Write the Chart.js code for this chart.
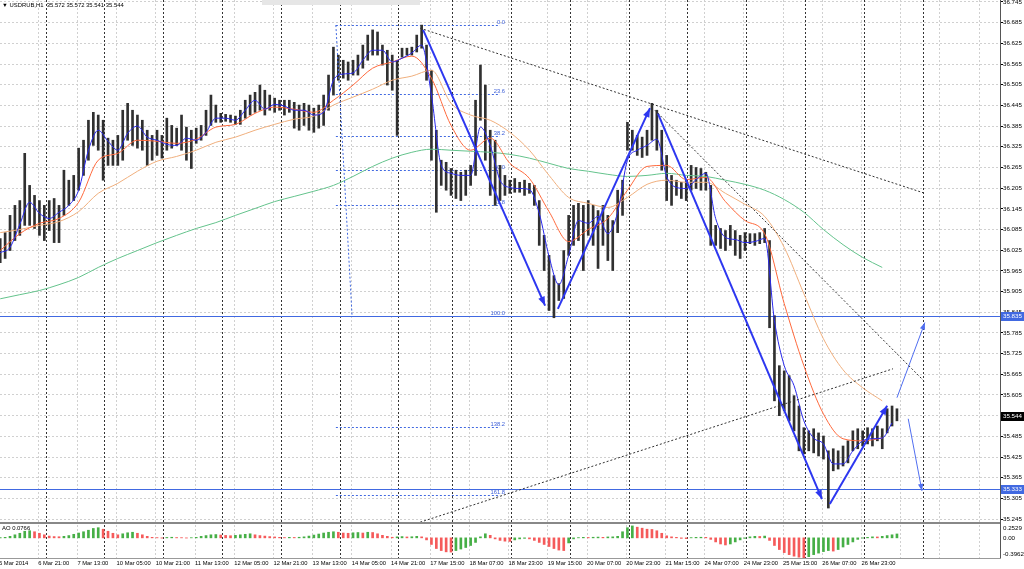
<!DOCTYPE html>
<html>
<head>
<meta charset="utf-8">
<script src="https://cdn.jsdelivr.net/npm/chart.js@4.4.1/dist/chart.umd.min.js"></script>
<style>
  body { margin: 0; background: #fff; width: 1024px; height: 569px; overflow: hidden; position: relative; font-family: 'Liberation Sans', Arial, sans-serif; }
  #boxPrezzo { position: absolute; left: 0; top: 0; }
  #boxAo { position: absolute; left: 0; top: 522px; }
  .testo { position: absolute; font-size: 5.9px; line-height: 9px; color: #000; white-space: nowrap; }
  #pannello { position: absolute; left: 262px; top: 0; width: 158px; height: 5px; background: #e6e6e6; }
</style>
</head>
<body>
<div id="boxPrezzo"><canvas id="graficoPrezzo" width="1024" height="522"></canvas></div>
<div id="boxAo"><canvas id="graficoAo" width="1024" height="47"></canvas></div>
<div id="pannello"></div>
<div class="testo" style="left:2px;top:1px">▼ USDRUB,H1 &nbsp;35.572 35.572 35.541 35.544</div>
<div class="testo" style="left:2px;top:524px">AO 0.0766</div>
<script>
// Etichette dell'asse del tempo (una ogni 16 barre orarie)
const etichetteOrari = ["5 Mar 2014", "6 Mar 21:00", "7 Mar 13:00", "10 Mar 05:00", "10 Mar 21:00", "11 Mar 13:00",
  "12 Mar 05:00", "12 Mar 21:00", "13 Mar 13:00", "14 Mar 05:00", "14 Mar 21:00", "17 Mar 15:00", "18 Mar 07:00",
  "18 Mar 23:00", "19 Mar 15:00", "20 Mar 07:00", "20 Mar 23:00", "21 Mar 15:00", "24 Mar 07:00", "24 Mar 23:00",
  "25 Mar 15:00", "26 Mar 07:00", "26 Mar 23:00"];

// Tacche dell'asse prezzi
const tacchePrezzo = [35.245, 35.305, 35.365, 35.425, 35.485, 35.545, 35.605, 35.665, 35.725, 35.785, 35.845, 35.905,
  35.965, 36.025, 36.085, 36.145, 36.205, 36.265, 36.325, 36.385, 36.445, 36.505, 36.565, 36.625, 36.685, 36.745];

// Barre (una ogni 2 ore): massimi e minimi
const massimi = [
  36.059, 36.076, 36.126, 36.155, 36.169, 36.306, 36.213, 36.184, 36.169, 36.155,
  36.169, 36.175, 36.155, 36.257, 36.228, 36.242, 36.321, 36.344, 36.402, 36.425,
  36.417, 36.402, 36.350, 36.344, 36.358, 36.431, 36.451, 36.431, 36.417, 36.402,
  36.373, 36.358, 36.373, 36.358, 36.408, 36.387, 36.379, 36.417, 36.382, 36.373,
  36.379, 36.387, 36.431, 36.475, 36.446, 36.422, 36.419, 36.417, 36.414, 36.431,
  36.460, 36.475, 36.483, 36.504, 36.489, 36.475, 36.466, 36.460, 36.460, 36.460,
  36.454, 36.446, 36.451, 36.446, 36.437, 36.446, 36.475, 36.533, 36.614, 36.591,
  36.576, 36.571, 36.576, 36.591, 36.620, 36.649, 36.664, 36.658, 36.620, 36.605,
  36.591, 36.576, 36.611, 36.611, 36.614, 36.649, 36.678, 36.620, 36.547, 36.373,
  36.286, 36.280, 36.262, 36.257, 36.251, 36.257, 36.271, 36.460, 36.562, 36.504,
  36.373, 36.344, 36.271, 36.242, 36.228, 36.233, 36.222, 36.228, 36.219, 36.213,
  36.169, 36.068, 36.010, 35.951, 35.928, 36.024, 36.126, 36.155, 36.161, 36.155,
  36.169, 36.155, 36.140, 36.155, 36.126, 36.111, 36.199, 36.228, 36.396, 36.373,
  36.358, 36.353, 36.373, 36.451, 36.431, 36.373, 36.300, 36.242, 36.228, 36.222,
  36.228, 36.271, 36.265, 36.262, 36.251, 36.213, 36.097, 36.088, 36.082, 36.097,
  36.082, 36.068, 36.076, 36.073, 36.073, 36.076, 36.088, 36.053, 35.835, 35.690,
  35.675, 35.661, 35.603, 35.573, 35.510, 35.501, 35.507, 35.495, 35.486, 35.443,
  35.449, 35.443, 35.457, 35.472, 35.501, 35.507, 35.501, 35.510, 35.507, 35.515,
  35.507, 35.565, 35.573, 35.565];
const minimi = [
  35.989, 36.001, 36.024, 36.053, 36.068, 36.097, 36.097, 36.088, 36.068, 36.053,
  36.082, 36.047, 36.047, 36.126, 36.155, 36.169, 36.199, 36.242, 36.286, 36.329,
  36.315, 36.228, 36.271, 36.271, 36.271, 36.286, 36.344, 36.329, 36.321, 36.315,
  36.271, 36.286, 36.300, 36.292, 36.315, 36.321, 36.329, 36.315, 36.286, 36.262,
  36.335, 36.344, 36.358, 36.387, 36.396, 36.396, 36.399, 36.396, 36.390, 36.390,
  36.408, 36.417, 36.425, 36.431, 36.417, 36.431, 36.425, 36.431, 36.417, 36.425,
  36.379, 36.373, 36.387, 36.373, 36.367, 36.379, 36.387, 36.431, 36.475, 36.518,
  36.524, 36.518, 36.533, 36.533, 36.553, 36.576, 36.591, 36.591, 36.562, 36.504,
  36.489, 36.358, 36.585, 36.591, 36.591, 36.600, 36.611, 36.518, 36.286, 36.135,
  36.213, 36.199, 36.184, 36.175, 36.169, 36.184, 36.213, 36.242, 36.402, 36.286,
  36.184, 36.155, 36.169, 36.184, 36.190, 36.193, 36.193, 36.184, 36.190, 36.155,
  36.039, 35.966, 35.850, 35.829, 35.879, 35.885, 36.010, 36.039, 36.053, 35.966,
  36.068, 36.039, 35.972, 36.039, 35.995, 35.966, 36.076, 36.126, 36.315, 36.315,
  36.300, 36.294, 36.300, 36.344, 36.315, 36.257, 36.169, 36.155, 36.184, 36.175,
  36.169, 36.199, 36.204, 36.199, 36.199, 36.039, 36.039, 36.030, 36.024, 36.039,
  36.010, 36.001, 36.024, 36.044, 36.039, 36.044, 36.047, 35.800, 35.588, 35.545,
  35.559, 35.530, 35.501, 35.443, 35.434, 35.443, 35.437, 35.428, 35.419, 35.277,
  35.385, 35.390, 35.399, 35.408, 35.443, 35.449, 35.457, 35.463, 35.457, 35.472,
  35.449, 35.495, 35.515, 35.530];

// Medie mobili (blu: un valore ogni 2 barre; le altre: uno ogni 4 barre)
const mediaBlu = [
  36.018, 36.033, 36.100, 36.164, 36.132, 36.117, 36.135, 36.155, 36.199, 36.315,
  36.373, 36.341, 36.315, 36.364, 36.385, 36.353, 36.344, 36.332, 36.329, 36.350,
  36.344, 36.367, 36.408, 36.408, 36.402, 36.431, 36.460, 36.434, 36.448, 36.443,
  36.431, 36.431, 36.417, 36.425, 36.518, 36.536, 36.539, 36.576, 36.605, 36.605,
  36.571, 36.582, 36.597, 36.620, 36.475, 36.271, 36.248, 36.242, 36.242, 36.382,
  36.329, 36.228, 36.207, 36.204, 36.201, 36.132, 36.007, 35.925, 36.010, 36.111,
  36.103, 36.123, 36.073, 36.135, 36.286, 36.315, 36.329, 36.347, 36.239, 36.207,
  36.204, 36.230, 36.248, 36.117, 36.062, 36.056, 36.047, 36.050, 36.059, 35.821,
  35.690, 35.632, 35.530, 35.480, 35.463, 35.405, 35.405, 35.443, 35.472, 35.478,
  35.480, 35.524];
const mediaRossa = [
  36.024, 36.073, 36.103, 36.117, 36.164, 36.286, 36.306, 36.344, 36.341, 36.335,
  36.347, 36.382, 36.390, 36.422, 36.440, 36.434, 36.425, 36.460, 36.504, 36.553,
  36.571, 36.588, 36.524, 36.387, 36.315, 36.350, 36.277, 36.233, 36.137, 36.050,
  36.085, 36.117, 36.199, 36.268, 36.271, 36.230, 36.236, 36.166, 36.111, 36.073,
  35.870, 35.690, 35.550, 35.478, 35.472, 35.480];
const mediaChiara = [
  36.076, 36.085, 36.097, 36.108, 36.137, 36.190, 36.219, 36.254, 36.283, 36.297,
  36.315, 36.338, 36.353, 36.373, 36.390, 36.405, 36.414, 36.446, 36.469, 36.492,
  36.518, 36.530, 36.547, 36.451, 36.417, 36.402, 36.367, 36.315, 36.242, 36.178,
  36.161, 36.149, 36.178, 36.216, 36.228, 36.222, 36.222, 36.190, 36.158, 36.123,
  36.033, 35.899, 35.768, 35.678, 35.626, 35.588];
const mediaVerde = [
  35.884, 35.896, 35.908, 35.925, 35.946, 35.975, 36.001, 36.024, 36.047, 36.068,
  36.088, 36.105, 36.126, 36.146, 36.166, 36.181, 36.196, 36.213, 36.239, 36.268,
  36.292, 36.309, 36.318, 36.315, 36.312, 36.309, 36.303, 36.292, 36.277, 36.262,
  36.254, 36.245, 36.239, 36.242, 36.248, 36.242, 36.239, 36.228, 36.216, 36.199,
  36.172, 36.135, 36.085, 36.041, 36.004, 35.975];

// Awesome Oscillator (una barra ogni 2 ore)
const valoriAo = [
  0.005, 0.010, 0.030, 0.060, 0.090, 0.130, 0.140, 0.120, 0.090, 0.060,
  0.035, 0.025, 0.022, 0.030, 0.045, 0.070, 0.095, 0.120, 0.150, 0.185,
  0.200, 0.170, 0.130, 0.090, 0.060, 0.080, 0.100, 0.110, 0.090, 0.060,
  0.030, 0.010, 0.005, -0.005, 0.008, 0.012, 0.006, 0.004, -0.004, 0.003,
  0.010, 0.030, 0.045, 0.060, 0.065, 0.055, 0.048, 0.042, 0.050, 0.060,
  0.070, 0.080, 0.060, 0.045, 0.035, 0.025, 0.018, 0.010, 0.006, 0.010,
  0.008, 0.012, 0.020, 0.035, 0.055, 0.075, 0.095, 0.110, 0.120, 0.110,
  0.095, 0.090, 0.100, 0.105, 0.095, 0.110, 0.105, 0.080, 0.050, 0.030,
  0.012, 0.020, 0.025, 0.018, 0.022, 0.030, 0.020, -0.040, -0.130, -0.210,
  -0.250, -0.275, -0.280, -0.250, -0.220, -0.190, -0.150, -0.090, 0.020, 0.080,
  0.050, -0.020, -0.050, -0.065, -0.070, -0.040, -0.020, -0.010, -0.020, -0.050,
  -0.090, -0.130, -0.170, -0.210, -0.240, -0.250, -0.100, -0.020, 0.005, 0.010,
  0.008, 0.012, 0.015, 0.010, 0.018, 0.020, 0.030, 0.120, 0.200, 0.235,
  0.210, 0.190, 0.170, 0.165, 0.140, 0.090, 0.040, 0.020, 0.010, -0.010,
  -0.015, 0.005, 0.010, 0.012, 0.010, -0.030, -0.080, -0.120, -0.140, -0.120,
  -0.080, -0.040, -0.010, 0.020, 0.030, 0.028, 0.035, -0.050, -0.150, -0.230,
  -0.290, -0.330, -0.360, -0.380, -0.396, -0.370, -0.330, -0.300, -0.270, -0.250,
  -0.260, -0.230, -0.180, -0.130, -0.080, -0.030, -0.005, 0.010, 0.020, 0.018,
  0.030, 0.045, 0.060, 0.0766];
const aoMin = -0.3962, aoMax = 0.2529;
const aoEtichette = ["0.2529", "0.00", "-0.3962"];

// Inizio di ogni giorno (in barre da 2 ore)
const separatoriGiorno = [9.25, 21.25, 33.25, 45.25, 57.25, 69.25, 81.25, 92.25, 104.25, 116.25, 128.25, 140.25, 152.25, 164.25, 176.25, 188.25];

// Livelli orizzontali e prezzi evidenziati sull'asse
const livelliOrizzontali = [35.835, 35.333];
const prezziEvidenziati = [35.835, 35.333, 35.544];
const coloriEvidenziati = ["#4169e1", "#4169e1", "#000000"];

// Fibonacci
const fibLivelli = [0, 23.6, 38.2, 50, 61.8, 100, 138.2, 161.8];
const fibAlto = 36.678, fibBasso = 35.835;
const fibTempi = [68.5, 71.8], fibFine = 102;

// Onde (linee blu spesse con freccia)
const ondaTempi = [[86.3, 111.2], [113.8, 132.6], [134.2, 167.7], [169.3, 181.0]];
const ondaPrezzi = [[36.664, 35.864], [35.855, 36.437], [36.422, 35.303], [35.289, 35.574]];
// Frecce di previsione
const previsioneTempi = [[183.0, 188.7], [185.3, 188.1]];
const previsionePrezzi = [[35.597, 35.815], [35.536, 35.327]];
// Linee di tendenza tratteggiate
const trendTempi = [[85.7, 188.7], [133.6, 188.7], [85.7, 182.2]];
const trendPrezzi = [[36.669, 36.190], [36.431, 35.643], [35.236, 35.681]];

const xMin = -0.046, xMax = 204.03;
const yMin = 35.2365, yMax = 36.7508;
const FONT_X = { size: 5.8, family: "'Liberation Sans', Arial, sans-serif" };
const FONT_Y = { size: 6.2, family: "'Liberation Sans', Arial, sans-serif" };
const GRIGLIA = '#d0d0d0';

// posizioni delle etichette del tempo (anche oltre i dati per la griglia)
const posizioniGriglia = [];
for (let k = 0; k < 26; k++) posizioniGriglia.push(8 * k - 0.25);

function linea(valori, passo, colore, ordine) {
  return {
    type: 'line', data: valori.map((v, k) => ({ x: k * passo, y: v })),
    borderColor: colore, borderWidth: 1, pointRadius: 0, cubicInterpolationMode: 'monotone', order: ordine
  };
}
function segmento(tempi, prezzi, colore, spessore, tratteggio, punta) {
  return {
    type: 'line', data: tempi.map((t, i) => ({ x: t, y: prezzi[i] })),
    borderColor: colore, backgroundColor: colore, borderWidth: spessore, borderDash: tratteggio,
    pointRadius: 0, tension: 0, order: 0, punta: punta
  };
}

const pluginSeparatori = {
  id: 'separatori',
  beforeDatasetsDraw(chart) {
    const { ctx, chartArea: a, scales: { x } } = chart;
    ctx.save();
    ctx.strokeStyle = '#333';
    ctx.lineWidth = 1;
    ctx.setLineDash([2, 2]);
    separatoriGiorno.forEach(j => {
      const px = Math.round(x.getPixelForValue(j)) + 0.5;
      ctx.beginPath(); ctx.moveTo(px, a.top); ctx.lineTo(px, a.bottom); ctx.stroke();
    });
    ctx.restore();
  }
};

const pluginLivelli = {
  id: 'livelli',
  beforeDatasetsDraw(chart) {
    const { ctx, chartArea: a, scales: { x, y } } = chart;
    ctx.save();
    ctx.lineWidth = 1;
    ctx.strokeStyle = '#4169e1';
    livelliOrizzontali.forEach(v => {
      const py = Math.round(y.getPixelForValue(v)) + 0.5;
      ctx.beginPath(); ctx.moveTo(a.left, py); ctx.lineTo(a.right, py); ctx.stroke();
    });
    // livelli di Fibonacci
    const x1 = x.getPixelForValue(fibTempi[0]), x2 = x.getPixelForValue(fibFine);
    ctx.setLineDash([2, 2]);
    ctx.font = "5.8px 'Liberation Sans', Arial, sans-serif";
    ctx.fillStyle = '#3d5fd8';
    ctx.textAlign = 'right';
    ctx.textBaseline = 'bottom';
    fibLivelli.forEach(l => {
      const v = fibAlto - (fibAlto - fibBasso) * l / 100;
      const py = Math.round(y.getPixelForValue(v)) + 0.5;
      ctx.beginPath(); ctx.moveTo(x1, py); ctx.lineTo(x2, py); ctx.stroke();
      ctx.fillText(l.toFixed(1), x2 + 5, py - 0.5);
    });
    ctx.restore();
  },
  afterDraw(chart) {
    const { ctx, chartArea: a, scales: { y } } = chart;
    ctx.save();
    ctx.fillStyle = '#555';
    ctx.fillRect(a.right, 0, 1, chart.height);
    ctx.fillStyle = '#888';
    ctx.fillRect(0, a.bottom, a.right, 1);
    ctx.font = "6.2px 'Liberation Sans', Arial, sans-serif";
    ctx.textAlign = 'left';
    ctx.textBaseline = 'middle';
    prezziEvidenziati.forEach((v, i) => {
      const py = Math.round(y.getPixelForValue(v));
      ctx.fillStyle = coloriEvidenziati[i];
      ctx.fillRect(a.right + 1, py - 4, 23, 9);
      ctx.fillStyle = '#fff';
      ctx.fillText(v.toFixed(3), a.right + 3, py + 0.5);
    });
    ctx.restore();
  }
};

const pluginFrecce = {
  id: 'frecce',
  afterDatasetsDraw(chart) {
    const ctx = chart.ctx;
    chart.data.datasets.forEach((ds, i) => {
      if (!ds.punta) return;
      const pts = chart.getDatasetMeta(i).data;
      const a = pts[pts.length - 2], b = pts[pts.length - 1];
      const ang = Math.atan2(b.y - a.y, b.x - a.x);
      const L = ds.punta, W = ds.punta * 0.38;
      ctx.save();
      ctx.fillStyle = ds.borderColor;
      ctx.beginPath();
      ctx.moveTo(b.x, b.y);
      ctx.lineTo(b.x - L * Math.cos(ang) + W * Math.sin(ang), b.y - L * Math.sin(ang) - W * Math.cos(ang));
      ctx.lineTo(b.x - L * Math.cos(ang) - W * Math.sin(ang), b.y - L * Math.sin(ang) + W * Math.cos(ang));
      ctx.closePath();
      ctx.fill();
      ctx.restore();
    });
  }
};

// Grafico prezzi
const datasetPrezzo = [
  {
    type: 'bar', label: 'USDRUB,H1',
    data: massimi.map((h, j) => ({ x: j, y: [minimi[j], h] })),
    backgroundColor: '#303030', barThickness: 2, grouped: false, order: 10
  },
  linea(mediaVerde, 4, 'rgb(100,195,140)', 5),
  linea(mediaChiara, 4, 'rgb(240,175,125)', 4),
  linea(mediaRossa, 4, 'rgb(255,105,60)', 3),
  linea(mediaBlu, 2, 'rgb(40,40,235)', 2),
  segmento(fibTempi, [fibAlto, fibBasso], '#4169e1', 1, [2, 2], 0)
];
trendTempi.forEach((t, i) => datasetPrezzo.push(segmento(t, trendPrezzi[i], '#333', 1, [2, 2], 0)));
ondaTempi.forEach((t, i) => datasetPrezzo.push(segmento(t, ondaPrezzi[i], 'rgb(45,55,240)', 2, [], 9)));
previsioneTempi.forEach((t, i) => datasetPrezzo.push(segmento(t, previsionePrezzi[i], 'rgb(80,110,240)', 1, [], 7)));

new Chart(document.getElementById('graficoPrezzo'), {
  type: 'bar',
  data: { datasets: datasetPrezzo },
  options: {
    responsive: false, animation: false,
    layout: { padding: 0 },
    plugins: { legend: { display: false }, tooltip: { enabled: false } },
    scales: {
      x: {
        type: 'linear', min: xMin, max: xMax, offset: false,
        afterBuildTicks: s => { s.ticks = posizioniGriglia.map(v => ({ value: v })); },
        ticks: { display: false },
        grid: { color: GRIGLIA, drawTicks: false, offset: false },
        border: { display: false, dash: [2, 2] },
        afterFit: s => { s.height = 0; s.paddingLeft = 0; s.paddingRight = 0; }
      },
      y: {
        position: 'right', min: yMin, max: yMax,
        afterBuildTicks: s => { s.ticks = tacchePrezzo.map(v => ({ value: v })); },
        ticks: { color: '#000', font: FONT_Y, padding: 0, autoSkip: false, callback: v => v.toFixed(3) },
        grid: { color: GRIGLIA, tickLength: 3, tickColor: '#000' },
        border: { display: false, dash: [2, 2] },
        afterFit: s => { s.width = 24; s.paddingTop = 0; s.paddingBottom = 0; }
      }
    }
  },
  plugins: [pluginSeparatori, pluginLivelli, pluginFrecce]
});

// Grafico Awesome Oscillator
const coloriAo = valoriAo.map((v, i) => (i === 0 || v >= valoriAo[i - 1]) ? 'rgb(70,175,70)' : 'rgb(245,90,90)');

new Chart(document.getElementById('graficoAo'), {
  type: 'bar',
  data: {
    datasets: [{
      label: 'AO', data: valoriAo.map((v, j) => ({ x: j, y: v })),
      backgroundColor: coloriAo, barThickness: 2, grouped: false
    }]
  },
  options: {
    responsive: false, animation: false,
    layout: { padding: { top: 3, left: 0, right: 0, bottom: 0 } },
    plugins: { legend: { display: false }, tooltip: { enabled: false } },
    scales: {
      x: {
        type: 'linear', min: xMin, max: xMax, offset: false,
        afterBuildTicks: s => { s.ticks = posizioniGriglia.map(v => ({ value: v })); },
        ticks: { color: '#000', font: FONT_X, align: 'start', padding: 2, maxRotation: 0, autoSkip: false,
          callback: (v, i) => etichetteOrari[i] || '' },
        grid: { color: GRIGLIA, drawTicks: false, offset: false },
        border: { display: false, dash: [2, 2] },
        afterFit: s => { s.height = 11; s.paddingLeft = 0; s.paddingRight = 0; }
      },
      y: {
        position: 'right', min: aoMin, max: aoMax,
        afterBuildTicks: s => {
          const perPx = (aoMax - aoMin) / 33;
          s.ticks = [aoMax - 3 * perPx, 0, aoMin + 4 * perPx].map(v => ({ value: v }));
        },
        ticks: { color: '#000', font: FONT_Y, padding: 3, autoSkip: false, callback: (v, i) => aoEtichette[i] },
        grid: { display: false, drawTicks: false },
        border: { display: false },
        afterFit: s => { s.width = 24; s.paddingTop = 0; s.paddingBottom = 0; }
      }
    }
  },
  plugins: [pluginSeparatori, {
    id: 'cornice',
    afterDraw(chart) {
      const { ctx, chartArea: a } = chart;
      ctx.save();
      ctx.fillStyle = '#888';
      ctx.fillRect(0, 0, a.right, 2);
      ctx.fillStyle = '#555';
      ctx.fillRect(a.right, 0, 1, a.bottom);
      ctx.fillStyle = '#999';
      ctx.fillRect(0, a.bottom, a.right + 1, 1);
      ctx.restore();
    }
  }]
});
</script>
</body>
</html>
